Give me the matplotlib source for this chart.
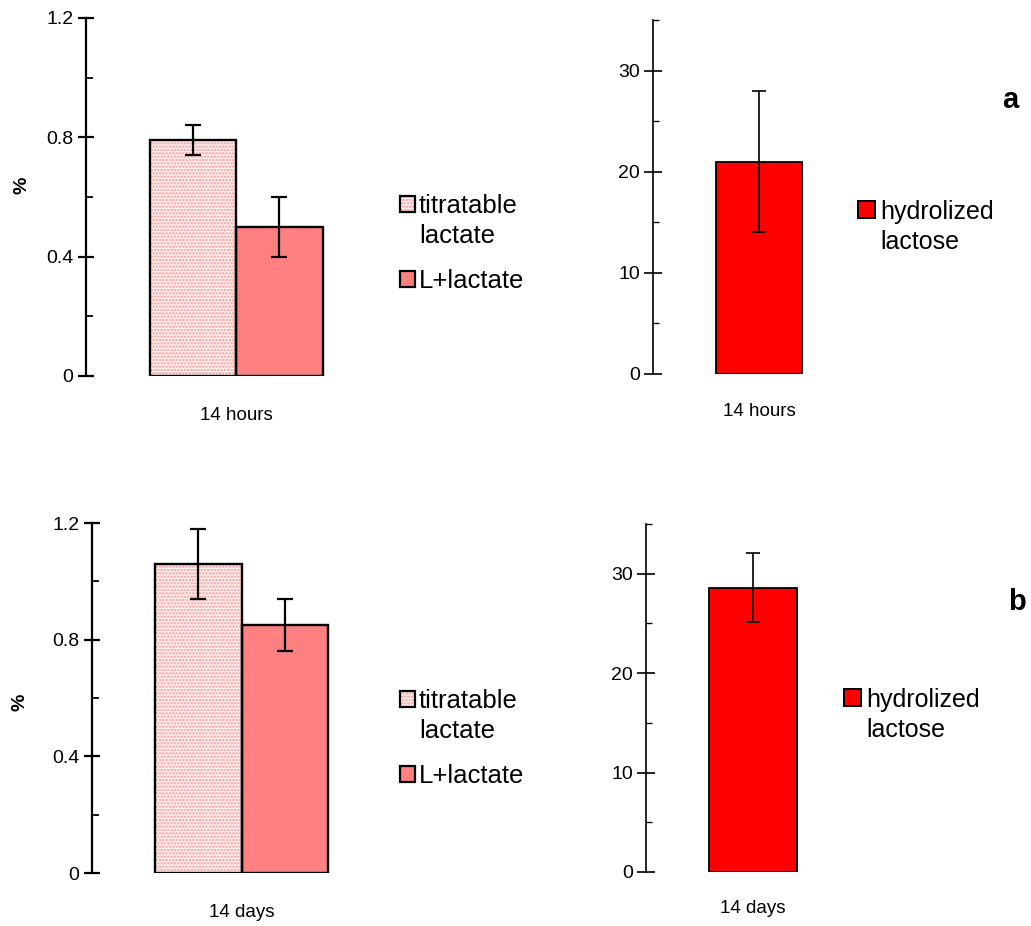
import matplotlib
matplotlib.use("Agg")
import matplotlib.pyplot as plt
from matplotlib.patches import Rectangle
from matplotlib.ticker import MultipleLocator

plt.rcParams['font.family'] = ['Liberation Sans', 'DejaVu Sans']
plt.rcParams['hatch.linewidth'] = 1.2

# ---------------- data ----------------
left_series = ["titratable\nlactate", "L+lactate"]
right_series = ["hydrolized\nlactose"]

hours_label = "14 hours"
days_label = "14 days"

hours_lactate = [0.79, 0.50]
hours_lactate_err = [0.05, 0.10]
days_lactate = [1.06, 0.85]
days_lactate_err = [0.12, 0.09]

hours_hydrolized = [21.0]
hours_hydrolized_err = [7.0]
days_hydrolized = [28.6]
days_hydrolized_err = [3.5]

left_ticks = [0, 0.4, 0.8, 1.2]
left_ticklabels = ["0", "0.4", "0.8", "1.2"]
right_ticks = [0, 10, 20, 30]
right_ticklabels = ["0", "10", "20", "30"]

panel_labels = ["a", "b"]
ylabel_left = "%"

# ---------------- style ----------------
W, H = 1031, 926
DOT_FACE = '#fff2f2'
DOT_COLOR = '#f59a9a'
SALMON = '#ff8080'
RED = '#ff0000'

fig = plt.figure(figsize=(W / 100, H / 100), dpi=100)


def px_axes(x0, y0, x1, y1):
    return fig.add_axes([x0 / W, 1 - y1 / H, (x1 - x0) / W, (y1 - y0) / H])


def style_axis(ax, lw, major_len, minor_len, tick_fs):
    for s in ['top', 'right', 'bottom']:
        ax.spines[s].set_visible(False)
    ax.spines['left'].set_linewidth(lw)
    ax.tick_params(axis='y', which='major', direction='inout', length=major_len,
                   width=lw, labelsize=tick_fs, pad=3)
    ax.tick_params(axis='y', which='minor', direction='in', length=minor_len, width=lw * 0.8)
    ax.tick_params(axis='x', length=0, labelsize=13.5)
    ax.patch.set_alpha(0)


def left_panel(ax, vals, errs, xlabel, ylim_top, pad):
    xs = [-0.5, 0.5]
    # dotted bar
    ax.bar(xs[0], vals[0], width=1, color=DOT_FACE, edgecolor=DOT_COLOR, hatch='.....',
           linewidth=0, zorder=2)
    ax.bar(xs[1], vals[1], width=1, color=SALMON, linewidth=0, zorder=2)
    ax.bar(xs, vals, width=1, fill=False, edgecolor='black', linewidth=1.7, zorder=3)
    ax.errorbar(xs, vals, yerr=errs, fmt='none', ecolor='black', elinewidth=1.6,
                capsize=6, capthick=1.6, zorder=4)
    ax.set_ylim(0, ylim_top)
    ax.set_yticks(left_ticks, left_ticklabels)
    ax.yaxis.set_minor_locator(MultipleLocator(0.2))
    ax.set_xticks([0], [xlabel])
    ax.tick_params(axis='x', pad=pad)
    style_axis(ax, 1.6, 12, 5, 14)


def right_panel(ax, vals, errs, xlabel, pad):
    ax.bar([0], vals, width=1, color=RED, edgecolor='black', linewidth=1.3, zorder=2)
    ax.errorbar([0], vals, yerr=errs, fmt='none', ecolor='black', elinewidth=1.2,
                capsize=5, capthick=1.2, zorder=4)
    ax.set_ylim(0, 35)
    ax.set_yticks(right_ticks, right_ticklabels)
    ax.yaxis.set_minor_locator(MultipleLocator(5))
    ax.set_xticks([0], [xlabel])
    ax.tick_params(axis='x', pad=pad)
    style_axis(ax, 1.2, 13, 4, 14)


# --- panel a, left ---
ax1 = px_axes(86, 18, 340, 376)
left_panel(ax1, hours_lactate, hours_lactate_err, hours_label, 1.2, 22)
ax1.set_xlim((86 - 236) / 86.5, (340 - 236) / 86.5)

# --- panel a, right ---
ax2 = px_axes(653, 20, 850, 374)
right_panel(ax2, hours_hydrolized, hours_hydrolized_err, hours_label, 21)
ax2.set_xlim((653 - 759) / 86, (850 - 759) / 86)

# --- panel b, left ---
ax3 = px_axes(92, 523, 346, 873)
left_panel(ax3, days_lactate, days_lactate_err, days_label, 1.2, 22)
ax3.set_xlim((92 - 241.5) / 86.5, (346 - 241.5) / 86.5)

# --- panel b, right ---
ax4 = px_axes(646, 524, 850, 872)
right_panel(ax4, days_hydrolized, days_hydrolized_err, days_label, 20)
ax4.set_xlim((646 - 752.5) / 88, (850 - 752.5) / 88)


# ---------------- legends (manual) ----------------
def fig_rect(x, y, w, h, **kw):
    r = Rectangle((x / W, 1 - (y + h) / H), w / W, h / H, transform=fig.transFigure, **kw)
    fig.add_artist(r)


def fig_text(x, y, s, **kw):
    fig.text(x / W, 1 - y / H, s, **kw)


def left_legend(y_first, y_second):
    fig_rect(400, y_first, 15, 16, facecolor=DOT_FACE, edgecolor=DOT_COLOR, hatch='.....', linewidth=0)
    fig_rect(400, y_first, 15, 16, fill=False, edgecolor='black', linewidth=1.6)
    fig_text(419, y_first - 2, left_series[0], fontsize=18.5, va='top', linespacing=1.3)
    fig_rect(400, y_second, 15, 16, facecolor=SALMON, edgecolor='black', linewidth=1.6)
    fig_text(419, y_second - 2, left_series[1], fontsize=18.5, va='top')


def right_legend(x, y):
    fig_rect(x, y, 17, 17, facecolor=RED, edgecolor='black', linewidth=1.4)
    fig_text(x + 22, y - 1, right_series[0], fontsize=18, va='top', linespacing=1.3)


left_legend(196, 271)
left_legend(691, 766)
right_legend(858, 201)
right_legend(844, 689)

# panel letters
fig_text(1010, 108, panel_labels[0], fontsize=21, fontweight='bold', ha='center', va='baseline')
fig_text(1017, 610, panel_labels[1], fontsize=21, fontweight='bold', ha='center', va='baseline')

# y labels
fig_text(22, 185, ylabel_left, fontsize=14, fontweight='bold', rotation=90, ha='center', va='center')
fig_text(20, 702, ylabel_left, fontsize=14, fontweight='bold', rotation=90, ha='center', va='center')

fig.savefig("out.png", dpi=100)
